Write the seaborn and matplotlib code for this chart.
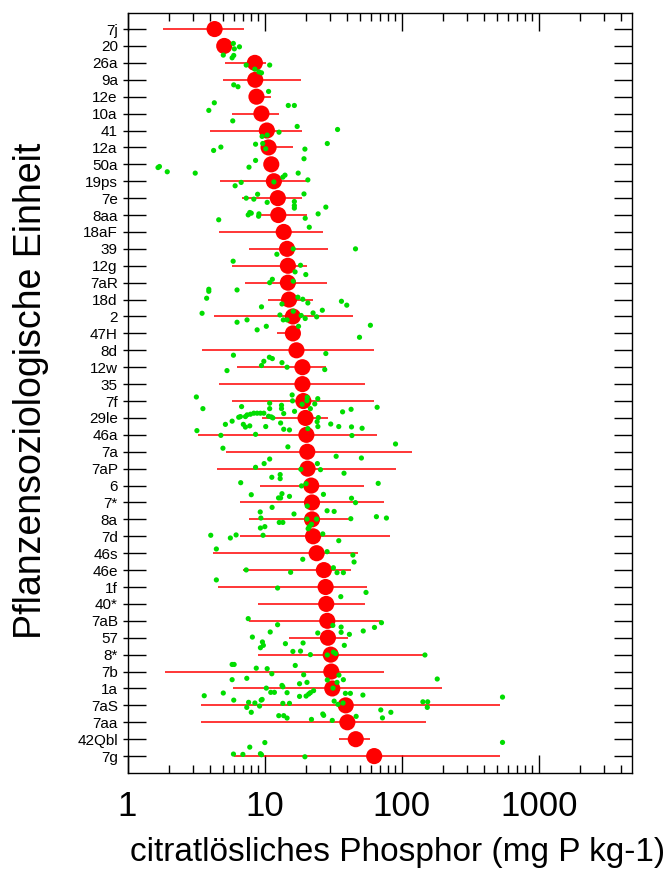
import numpy as np
import pandas as pd
import matplotlib
matplotlib.use("Agg")
import matplotlib.pyplot as plt
import seaborn as sns
from matplotlib.ticker import LogLocator, FixedLocator, NullFormatter

# ---------------- data ----------------
cats = ["7j", "20", "26a", "9a", "12e", "10a", "41", "12a", "50a", "19ps", "7e", "8aa",
        "18aF", "39", "12g", "7aR", "18d", "2", "47H", "8d", "12w", "35", "7f", "29le",
        "46a", "7a", "7aP", "6", "7*", "8a", "7d", "46s", "46e", "1f", "40*", "7aB", "57",
        "8*", "7b", "1a", "7aS", "7aa", "42Qbl", "7g"]

means = [4.32, 5.08, 8.5, 8.55, 8.73, 9.49, 10.4, 10.7, 11.2, 11.7,
         12.5, 12.6, 13.8, 14.6, 14.8, 14.8, 15.1, 16.1, 16.1, 17.1,
         18.9, 18.9, 19.2, 19.9, 20.2, 20.5, 20.6, 21.9, 22.2, 22.2,
         22.6, 24.0, 27.1, 27.9, 28.2, 28.7, 29.0, 30.4, 30.7, 31.2,
         39.1, 40.2, 46.3, 63.1]

nan = float("nan")
range_lo = [1.83, nan, 5.17, 4.98, 8.5, 5.82, 3.97, 10.0, nan, 4.76,
            6.85, 9.33, 4.62, 7.75, 5.79, 7.25, 10.6, 4.25, 12.4, 3.49,
            6.3, 4.62, 5.79, 9.6, 3.25, 5.23, 4.5, 9.22, 6.59, 7.67,
            6.59, 4.2, 6.93, 4.6, 8.92, 7.67, 15.2, 8.92, 1.88, 5.85,
            3.45, 3.45, 34.9, 5.95]
range_hi = [7.13, nan, 10.3, 18.5, 11.2, 12.7, 18.7, 16.1, nan, 20.7,
            18.7, 20.3, 26.7, 29.2, 20.5, 28.7, 22.5, 44.5, 16.4, 63.1,
            27.9, 53.8, 62.4, 29.0, 66.7, 120, 90.3, 53.2, 73.8, 42.5,
            82.6, 48.4, 43.0, 55.5, 53.8, 71.3, 40.7, 146, 74.6, 196,
            524, 151, 58.9, 524]

# individual samples: (value, vertical position in category units)
green_pts = [
    (5.92, 0.85), (6.02, 1.17), (6.56, 1.05), (5.0, 1.54), (5.8, 1.70), (5.96, 1.56),
    (7.35, 2.13), (10.9, 2.13), (8.5, 2.37), (9.1, 2.53), (9.5, 2.59),
    (5.96, 3.30), (6.4, 3.41), (10.7, 3.69),
    (4.3, 4.36), (3.92, 4.81), (14.9, 4.52), (16.5, 4.52),
    (5.86, 5.43), (17.3, 5.76), (34.1, 5.94), (12.75, 6.10), (9.6, 6.35), (10.45, 6.27),
    (28.7, 6.77), (8.6, 6.81), (9.7, 6.77), (4.8, 6.98), (4.25, 7.18), (10.2, 7.08), (19.7, 7.10),
    (19.4, 7.67), (8.6, 7.77), (7.7, 8.17), (1.67, 8.19), (1.71, 8.13), (1.95, 8.44), (3.12, 8.52),
    (17.6, 8.52), (13.6, 8.76), (14.1, 8.64), (20.7, 8.92), (6.75, 9.07), (6.1, 9.27), (11.7, 9.04),
    (19.4, 9.75), (8.9, 9.77), (7.35, 10.0), (8.35, 10.06), (10.45, 10.25), (16.5, 10.2),
    (16.5, 10.44), (16.5, 10.59), (28.0, 10.53),
    (7.8, 10.85), (8.0, 10.89), (7.6, 10.99), (9.1, 10.93), (9.05, 11.07), (24.6, 10.93),
    (19.8, 11.19), (4.63, 11.28), (21.2, 11.72),
    (46.1, 13.0), (16.2, 13.0), (12.3, 13.32),
    (5.9, 13.73), (18.3, 13.97), (16.7, 14.36), (20.0, 14.52),
    (11.4, 14.8), (10.9, 15.0), (16.2, 14.91),
    (3.92, 15.39), (3.92, 15.51), (6.3, 15.43), (3.78, 15.92), (17.5, 15.86), (19.0, 15.98),
    (20.7, 16.2), (36.4, 16.1), (39.8, 16.33), (9.5, 16.43), (13.4, 16.26),
    (3.5, 16.81), (16.2, 16.69), (22.6, 16.79), (26.4, 16.63), (12.95, 16.91), (18.5, 16.94),
    (24.0, 17.02), (19.8, 17.12), (13.7, 17.2), (14.6, 17.2), (7.45, 17.2), (6.3, 17.34),
    (59.2, 17.52), (10.3, 17.58), (8.83, 17.79), (17.7, 17.58), (49.3, 18.23),
    (5.93, 19.29), (28.0, 19.19), (10.85, 19.41), (11.4, 19.49), (9.88, 19.65), (13.4, 19.73),
    (9.5, 19.9), (14.6, 20.0), (27.5, 20.14), (5.32, 20.2),
    (3.18, 21.76), (15.9, 21.64), (16.0, 21.99), (20.5, 21.78), (20.4, 21.98), (24.45, 21.86),
    (18.8, 22.19), (23.25, 22.17), (3.55, 22.45), (6.8, 22.33), (10.9, 22.13), (13.3, 22.25),
    (10.9, 22.45), (13.3, 22.45), (13.8, 22.74), (21.6, 22.45), (16.55, 22.61), (66.3, 22.37),
    (42.8, 22.49), (37.1, 22.64),
    (8.35, 22.72), (8.83, 22.72), (9.33, 22.72), (9.88, 22.72), (7.89, 22.78), (7.46, 22.82),
    (7.25, 22.92), (6.67, 22.92), (6.48, 22.96), (11.2, 22.94), (11.5, 23.0), (10.7, 22.9),
    (24.7, 22.98), (24.2, 23.22), (5.8, 23.19), (5.18, 23.38), (7.0, 23.38), (7.25, 23.54),
    (7.8, 23.47), (10.2, 23.51), (13.1, 23.3), (30.4, 23.36), (34.8, 23.51), (43.1, 23.53),
    (51.5, 23.61), (24.5, 23.51), (20.7, 23.63), (3.21, 23.75), (13.8, 23.67), (15.2, 23.71),
    (8.6, 23.97), (4.8, 24.03), (43.4, 24.04),
    (90.3, 24.54), (4.97, 24.79), (14.8, 24.71), (33.3, 25.27), (50.9, 25.37), (10.9, 25.43),
    (9.93, 25.7), (8.6, 25.92), (24.3, 25.7), (25.6, 26.06), (18.4, 26.04), (38.0, 26.27),
    (11.3, 26.51), (13.0, 26.35), (13.0, 26.59), (6.7, 26.83), (18.6, 27.02), (20.1, 26.89),
    (67.5, 26.87),
    (8.0, 27.54), (13.4, 27.48), (13.1, 27.73), (12.65, 27.73), (15.2, 27.64), (26.9, 27.52),
    (43.1, 27.75), (46.1, 28.01), (20.5, 28.21), (11.35, 28.29),
    (16.4, 28.68), (28.6, 28.49), (32.2, 28.53), (9.3, 28.56), (65.5, 28.84), (77.5, 28.92),
    (9.4, 28.92), (20.4, 28.98), (24.0, 28.98), (42.6, 28.96), (12.8, 29.18), (13.6, 29.18),
    (22.0, 29.29), (21.2, 29.43), (20.8, 29.55), (10.05, 29.43), (9.33, 29.51),
    (4.05, 29.94), (6.2, 29.92), (5.63, 30.1), (9.75, 29.94), (26.6, 29.86), (34.8, 30.26),
    (4.45, 30.75), (28.6, 30.91), (44.1, 31.11), (19.0, 31.36), (45.0, 31.52),
    (7.35, 31.99), (15.5, 32.13), (31.8, 31.86), (37.6, 32.15), (33.8, 32.15),
    (4.45, 32.58), (12.45, 33.06), (36.0, 33.57), (55.0, 33.32),
    (7.6, 34.87), (12.45, 35.23), (31.5, 35.27), (36.2, 35.37), (36.2, 35.68), (24.45, 35.72),
    (52.5, 35.6), (63.4, 35.39), (71.3, 35.11),
    (11.0, 35.66), (8.15, 35.96), (41.6, 35.8), (9.65, 36.25), (9.8, 36.45), (14.2, 36.35),
    (19.1, 36.31), (38.2, 36.45),
    (9.33, 36.59), (16.1, 36.81), (18.3, 36.79), (21.6, 37.0), (28.7, 37.02), (31.8, 36.85),
    (33.0, 36.93), (148, 37.02),
    (5.8, 37.58), (6.0, 37.58), (8.7, 37.8), (10.45, 37.83), (11.3, 38.13), (16.75, 37.64),
    (19.3, 38.19), (5.8, 38.48), (7.42, 38.4), (28.7, 38.5), (33.8, 38.64), (37.6, 38.48),
    (34.9, 38.21), (18.0, 38.72), (20.4, 38.64), (13.4, 38.82), (13.6, 38.9), (10.3, 38.98),
    (182, 38.44),
    (22.8, 39.13), (21.6, 39.25), (21.0, 39.33), (20.1, 39.45), (18.0, 39.47), (14.6, 39.25),
    (11.8, 39.23), (11.1, 39.23), (5.0, 39.27), (3.63, 39.43), (38.9, 39.29), (42.3, 39.29),
    (52.2, 39.39), (31.6, 38.98),
    (5.96, 39.69), (7.65, 39.82), (8.5, 39.86), (9.2, 40.04), (9.45, 39.69), (9.6, 39.65),
    (7.42, 40.12), (8.0, 40.41), (13.6, 39.88), (15.2, 39.88), (32.2, 39.75), (34.3, 39.94),
    (37.4, 39.86), (545, 39.51), (143, 39.79), (155, 39.79), (154, 40.12),
    (12.7, 40.61), (13.8, 40.61), (14.6, 40.75), (22.0, 40.83), (31.2, 40.89), (26.6, 40.51),
    (27.0, 40.59), (46.6, 40.65), (70.5, 40.27), (72.5, 40.74), (83.5, 40.41),
    (545, 42.19),
    (7.8, 42.47), (10.05, 42.2), (5.93, 42.88), (6.95, 42.9), (9.33, 42.86), (9.5, 42.92),
    (19.7, 43.04),
]

x_ticks = [1, 10, 100, 1000]
x_ticklabels = ["1", "10", "100", "1000"]
xlabel = "citratlösliches Phosphor (mg P kg-1)"
ylabel = "Pflanzensoziologische Einheit"

# ---------------- plotting ----------------
sns.set_style("white")
plt.rcParams["font.family"] = ["Liberation Sans", "DejaVu Sans"]
plt.rcParams["text.color"] = "black"
plt.rcParams["xtick.color"] = "black"
plt.rcParams["ytick.color"] = "black"
plt.rcParams["axes.edgecolor"] = "black"

W, H = 668, 871
fig = plt.figure(figsize=(W / 100, H / 100), dpi=100)
ax = fig.add_axes([127.5 / W, 1 - 773 / H, (632 - 127.5) / W, (773 - 13) / H])

pos = np.arange(len(cats))
summary = pd.DataFrame({"cat": cats, "pos": pos, "mean": means,
                        "lo": range_lo, "hi": range_hi})
rng = summary.dropna()
green = pd.DataFrame(green_pts, columns=["value", "pos"])

ax.hlines(rng["pos"], rng["lo"], rng["hi"], color="#ff0000", lw=1.1, zorder=2)
sns.scatterplot(data=summary, x="mean", y="pos", s=135, color="#ff0000",
                edgecolor="none", linewidth=0, ax=ax, zorder=3, legend=False)
sns.scatterplot(data=green, x="value", y="pos", s=14, color="#00dd00",
                edgecolor="none", linewidth=0, ax=ax, zorder=4, legend=False)

ax.set_xscale("log")
ax.set_xlim(1, 4800)
ax.set_ylim(44.0, -0.95)

ax.set_xticks(x_ticks)
ax.set_xticklabels(x_ticklabels, fontsize=25, color="black")
ax.xaxis.set_minor_locator(LogLocator(base=10, subs=range(2, 10), numticks=20))
ax.xaxis.set_minor_formatter(NullFormatter())
ax.tick_params(axis="x", which="major", direction="in", length=13, width=1.0,
               top=True, bottom=True, pad=12, colors="black")
ax.tick_params(axis="x", which="minor", direction="in", length=6, width=1.0,
               top=True, bottom=True)

ax.set_yticks(pos)
ax.set_yticklabels(cats, fontsize=11, color="black")
ax.yaxis.set_minor_locator(FixedLocator(pos))
ax.yaxis.remove_overlapping_locs = False
ax.tick_params(axis="y", which="major", direction="in", length=13, width=1.0,
               left=True, right=True, pad=7, colors="black")
ax.tick_params(axis="y", which="minor", direction="out", length=3.6, width=1.0,
               left=True, right=False)

for sp in ax.spines.values():
    sp.set_visible(True)
    sp.set_color("black")
    sp.set_linewidth(1.0)

ax.set_xlabel("")
ax.set_ylabel("")
fig.text(398 / W, 1 - 861 / H, xlabel, ha="center", va="baseline", fontsize=24, color="black")
fig.text(31 / W, 1 - 391 / H, ylabel, ha="center", va="center", rotation=90,
         fontsize=27, color="black")

fig.savefig("out.png", dpi=100)
